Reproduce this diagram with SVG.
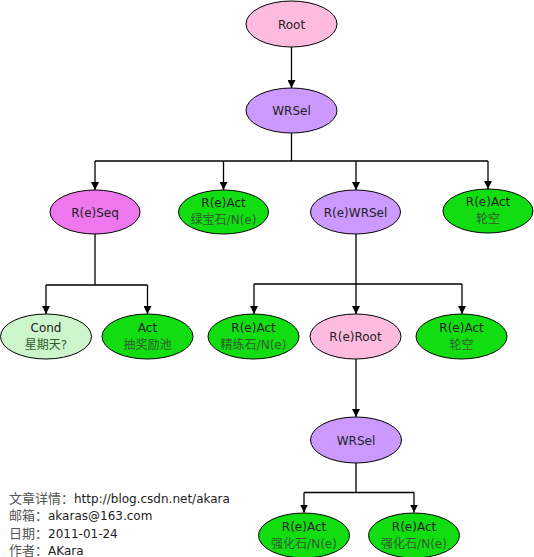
<svg xmlns="http://www.w3.org/2000/svg" width="534" height="557" viewBox="0 0 534 557">
<defs>
<marker id="arr" viewBox="0 0 10 10" refX="10" refY="5" markerWidth="8" markerHeight="8" markerUnits="userSpaceOnUse" orient="auto">
<path d="M0,0 L10,5 L0,10 z" fill="#000"/>
</marker>
<style>
.n{stroke:#000;stroke-width:1}
.pink{fill:#FFBBDD}
.purple{fill:#CC99FF}
.mag{fill:#EE77EE}
.green{fill:#11DD11}
.lgreen{fill:#CCF5CC}
text{font-family:"DejaVu Sans","Noto Sans CJK SC",sans-serif;font-size:12px;fill:#222;text-anchor:middle}
.cn{fill:#2E5E2E}
.e{fill:none;stroke:#000;stroke-width:1.3}
.ft{text-anchor:start;fill:#222}
.ftc{fill:#555;font-size:13px}
</style>
</defs>
<rect width="534" height="557" fill="#fff"/>
<g id="connectors">
<path class="e" d="M291.5,47 V88" marker-end="url(#arr)"/>
<path class="e" d="M291.5,133 V161"/>
<path class="e" d="M95,161 H488"/>
<path class="e" d="M95,161 V190" marker-end="url(#arr)"/>
<path class="e" d="M223.5,161 V190" marker-end="url(#arr)"/>
<path class="e" d="M356,161 V190" marker-end="url(#arr)"/>
<path class="e" d="M488,161 V189" marker-end="url(#arr)"/>
<path class="e" d="M95,234 V285 M46,285 H147.5"/>
<path class="e" d="M46,285 V314" marker-end="url(#arr)"/>
<path class="e" d="M147.5,285 V314" marker-end="url(#arr)"/>
<path class="e" d="M356,234 V284 M254,284 H462"/>
<path class="e" d="M254,284 V314" marker-end="url(#arr)"/>
<path class="e" d="M356,284 V314" marker-end="url(#arr)"/>
<path class="e" d="M462,284 V314" marker-end="url(#arr)"/>
<path class="e" d="M356,359 V417" marker-end="url(#arr)"/>
<path class="e" d="M356,463 V492.5 M304,492.5 H414"/>
<path class="e" d="M304,492.5 V512.5" marker-end="url(#arr)"/>
<path class="e" d="M414,492.5 V512.5" marker-end="url(#arr)"/>
</g>
<g id="root"><ellipse class="n pink" cx="291.5" cy="24" rx="45.5" ry="23"/><text x="291.5" y="28.5">Root</text></g>
<g id="wrsel1"><ellipse class="n purple" cx="291.5" cy="110.5" rx="45.5" ry="22.5"/><text x="291.5" y="115">WRSel</text></g>
<g id="reseq"><ellipse class="n mag" cx="95" cy="212" rx="45" ry="22"/><text x="95" y="216.5">R(e)Seq</text></g>
<g id="react1"><ellipse class="n green" cx="223.5" cy="212" rx="45" ry="22"/><text x="223.5" y="206.5">R(e)Act</text><text x="223.5" y="224" class="cn">绿宝石/N(e)</text></g>
<g id="rewrsel"><ellipse class="n purple" cx="355.5" cy="212" rx="45" ry="22"/><text x="355.5" y="216.5">R(e)WRSel</text></g>
<g id="react2"><ellipse class="n green" cx="488" cy="211" rx="45" ry="22"/><text x="488" y="205.5">R(e)Act</text><text x="488" y="223" class="cn">轮空</text></g>
<g id="cond"><ellipse class="n lgreen" cx="46" cy="336.5" rx="45.5" ry="22.5"/><text x="46" y="331.5">Cond</text><text x="46" y="348.5" class="cn">星期天?</text></g>
<g id="act"><ellipse class="n green" cx="147.5" cy="336.5" rx="45.5" ry="22.5"/><text x="147.5" y="331.5">Act</text><text x="147.5" y="348.5" class="cn">抽奖励池</text></g>
<g id="react3"><ellipse class="n green" cx="253.5" cy="336.5" rx="45.5" ry="22.5"/><text x="253.5" y="331.5">R(e)Act</text><text x="253.5" y="348.5" class="cn">精练石/N(e)</text></g>
<g id="reroot"><ellipse class="n pink" cx="355.5" cy="336.5" rx="45.5" ry="22.5"/><text x="355.5" y="341">R(e)Root</text></g>
<g id="react4"><ellipse class="n green" cx="461.5" cy="336.5" rx="45.5" ry="22.5"/><text x="461.5" y="331.5">R(e)Act</text><text x="461.5" y="348.5" class="cn">轮空</text></g>
<g id="wrsel2"><ellipse class="n purple" cx="356" cy="440" rx="45.5" ry="23"/><text x="356" y="444.5">WRSel</text></g>
<g id="react5"><ellipse class="n green" cx="304" cy="535.5" rx="45.5" ry="22.5"/><text x="304" y="530.5">R(e)Act</text><text x="304" y="547.5" class="cn">强化石/N(e)</text></g>
<g id="react6"><ellipse class="n green" cx="414" cy="535.5" rx="45.5" ry="22.5"/><text x="414" y="530.5">R(e)Act</text><text x="414" y="547.5" class="cn">强化石/N(e)</text></g>
<g id="footer">
<text class="ft" x="9" y="503"><tspan class="ftc">文章详情：</tspan>http://blog.csdn.net/akara</text>
<text class="ft" x="9" y="520"><tspan class="ftc">邮箱：</tspan>akaras@163.com</text>
<text class="ft" x="9" y="537.5"><tspan class="ftc">日期：</tspan>2011-01-24</text>
<text class="ft" x="9" y="555"><tspan class="ftc">作者：</tspan>AKara</text>
</g>
</svg>
